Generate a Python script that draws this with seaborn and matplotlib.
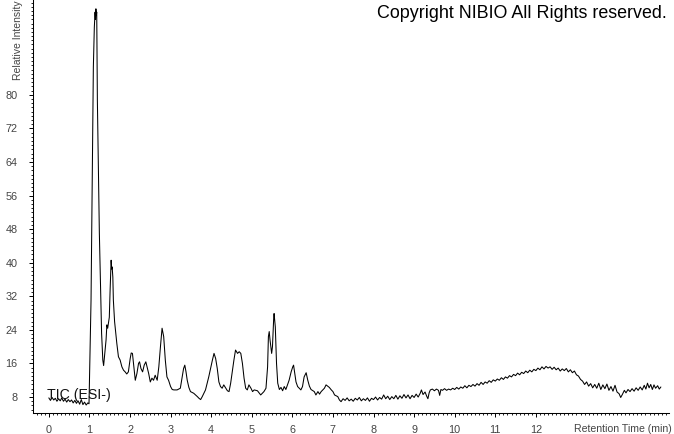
import numpy as np
import pandas as pd
import seaborn as sns
import matplotlib
matplotlib.use("Agg")
import matplotlib.pyplot as plt
from matplotlib.ticker import MultipleLocator, FixedLocator, FixedFormatter

# ---------------- data ----------------
rt_early = [0.00, 0.04, 0.08, 0.12, 0.16, 0.20, 0.24, 0.28, 0.32, 0.36, 0.40, 0.44, 0.48,
            0.52, 0.56, 0.60, 0.64, 0.68, 0.72, 0.76, 0.80, 0.84, 0.88, 0.92, 0.96, 0.99,
            1.00, 1.04, 1.064, 1.082, 1.097, 1.121, 1.139, 1.15, 1.16, 1.17, 1.18, 1.196,
            1.22, 1.245, 1.28, 1.30, 1.33, 1.35, 1.37, 1.41, 1.43, 1.45, 1.49, 1.51, 1.535,
            1.55, 1.56, 1.577, 1.59, 1.62, 1.675, 1.715, 1.757, 1.80, 1.84, 1.88, 1.92, 1.96,
            2.005, 2.03, 2.06, 2.09, 2.13, 2.17, 2.21, 2.235, 2.27, 2.31, 2.35, 2.39, 2.42,
            2.46, 2.50, 2.54, 2.58, 2.62, 2.67, 2.71, 2.75, 2.79, 2.83, 2.87, 2.91, 2.95,
            3.00, 3.04, 3.08, 3.16, 3.24, 3.28, 3.32, 3.35, 3.38, 3.41, 3.45, 3.49, 3.57,
            3.66, 3.70, 3.74, 3.78, 3.86, 3.94, 4.03, 4.07, 4.11, 4.15, 4.19, 4.23, 4.27,
            4.31, 4.36, 4.40, 4.44, 4.48, 4.52, 4.56, 4.60, 4.65, 4.69, 4.73, 4.77, 4.81,
            4.85, 4.89, 4.93, 4.98, 5.02, 5.06, 5.14, 5.22, 5.30, 5.35, 5.39, 5.41, 5.43,
            5.45, 5.49, 5.51, 5.54, 5.55, 5.58, 5.61, 5.64, 5.68, 5.72, 5.76, 5.80, 5.84,
            5.88, 5.92, 5.97, 6.01, 6.03, 6.06, 6.09, 6.13, 6.21, 6.25, 6.29, 6.34, 6.38,
            6.42, 6.46, 6.54, 6.58, 6.63, 6.67, 6.71, 6.75, 6.79, 6.83, 6.87, 6.91, 6.96,
            7.00, 7.04, 7.08, 7.12, 7.16]
int_early = [7.8, 7.2, 7.9, 7.3, 7.7, 7.0, 7.6, 7.1, 7.8, 7.0, 7.5, 6.8, 7.4,
             6.9, 7.3, 6.6, 7.2, 6.5, 7.1, 6.3, 7.4, 6.2, 6.8, 6.1, 6.6, 6.4,
             11.3, 31.1, 54.9, 70.9, 86.6, 96.1, 99.7, 98.0, 100.5, 99.0, 99.7, 78.7,
             62.8, 47.0, 31.1, 23.2, 16.8, 15.5, 17.5, 21.6, 25.2, 24.4, 27.0, 33.5, 40.6,
             38.5, 39.0, 36.6, 31.1, 26.0, 20.8, 17.6, 16.8, 15.2, 14.4, 14.0, 13.5, 14.0,
             17.2, 18.5, 18.4, 15.6, 12.0, 13.6, 16.0, 16.4, 14.8, 14.0, 15.6, 16.4, 15.2,
             13.6, 11.6, 12.5, 12.0, 13.2, 12.0, 15.2, 20.0, 24.4, 22.4, 16.8, 12.8, 12.0,
             10.5, 9.8, 9.7, 9.7, 10.1, 12.5, 14.8, 15.6, 14.0, 12.0, 10.3, 9.3, 8.9,
             8.1, 7.7, 7.4, 8.1, 9.7, 12.8, 16.8, 18.4, 17.2, 14.8, 11.6, 10.5, 10.1,
             10.9, 10.1, 9.5, 9.3, 11.3, 14.0, 16.8, 19.2, 18.4, 18.8, 18.4, 16.0, 12.5,
             10.1, 9.7, 10.9, 10.1, 9.3, 9.7, 9.5, 8.5, 9.3, 10.1, 15.2, 22.4, 23.6,
             21.6, 18.4, 20.0, 26.7, 27.9, 24.7, 16.0, 11.3, 9.8, 10.3, 9.5, 10.5, 9.8,
             10.9, 12.0, 14.0, 15.2, 15.6, 13.6, 11.6, 10.5, 9.7, 10.5, 12.8, 13.8, 12.0,
             10.6, 9.8, 9.3, 8.5, 9.3, 8.7, 9.3, 9.7, 10.1, 10.9, 10.6, 10.3, 9.7,
             9.3, 8.5, 8.3, 8.1, 7.3]

rt_late = [7.20, 7.25, 7.30, 7.35, 7.40, 7.45, 7.50, 7.55, 7.60, 7.65, 7.70, 7.75, 7.80,
           7.85, 7.90, 7.95, 8.00, 8.05, 8.10, 8.15, 8.20, 8.25, 8.30, 8.35, 8.40, 8.45,
           8.50, 8.55, 8.60, 8.65, 8.70, 8.75, 8.80, 8.85, 8.90, 8.95, 9.00, 9.05, 9.10,
           9.15, 9.18, 9.22, 9.27, 9.31, 9.34, 9.37, 9.40, 9.45, 9.50, 9.55, 9.60, 9.63,
           9.66, 9.70, 9.75, 9.80, 9.85, 9.90, 9.95, 10.00, 10.05, 10.10, 10.15, 10.20,
           10.25, 10.30, 10.35, 10.40, 10.45, 10.50, 10.55, 10.60, 10.65, 10.70, 10.75,
           10.80, 10.85, 10.90, 10.95, 11.00, 11.05, 11.10, 11.15, 11.20, 11.25, 11.30,
           11.35, 11.40, 11.45, 11.50, 11.55, 11.60, 11.65, 11.70, 11.75, 11.80, 11.85,
           11.90, 11.95, 12.00, 12.05, 12.10, 12.15, 12.20, 12.25, 12.30, 12.35, 12.40,
           12.45, 12.50, 12.55, 12.60, 12.65, 12.70, 12.75, 12.80, 12.85, 12.90, 12.95,
           13.00, 13.05, 13.10, 13.15, 13.20, 13.25, 13.30, 13.35, 13.40, 13.45, 13.50,
           13.55, 13.60, 13.65, 13.70, 13.75, 13.80, 13.85, 13.90, 13.95, 14.00, 14.05,
           14.09, 14.13, 14.18, 14.22, 14.27, 14.32, 14.37, 14.42, 14.47, 14.52, 14.57,
           14.62, 14.67, 14.71, 14.75, 14.79, 14.83, 14.87, 14.91, 14.95, 15.00, 15.04,
           15.08]
int_late = [6.9, 7.6, 7.2, 7.8, 7.1, 7.5, 7.0, 7.7, 7.3, 7.9, 7.1, 7.6, 7.2,
            7.8, 7.0, 7.7, 7.4, 8.0, 7.3, 7.9, 7.5, 8.5, 7.6, 8.2, 7.4, 8.1,
            7.6, 8.4, 7.5, 8.3, 7.7, 8.6, 7.8, 8.5, 7.6, 8.4, 7.9, 8.7, 8.0,
            8.9, 9.7, 8.6, 9.2, 8.2, 7.6, 9.0, 9.7, 9.9, 9.5, 9.9, 9.6, 8.4,
            9.8, 9.6, 10.0, 9.6, 9.9, 9.7, 10.1, 9.8, 10.3, 9.9, 10.4, 10.1,
            10.7, 10.2, 10.8, 10.5, 11.0, 10.6, 11.2, 10.8, 11.5, 11.0, 11.6,
            11.3, 11.9, 11.5, 12.1, 11.8, 12.3, 12.0, 12.6, 12.2, 12.8, 12.5,
            13.1, 12.8, 13.4, 13.1, 13.7, 13.3, 13.9, 13.6, 14.2, 13.8, 14.4,
            14.0, 14.6, 14.3, 14.9, 14.5, 15.2, 14.7, 15.3, 14.9, 15.2, 14.6,
            15.1, 14.5, 14.9, 14.2, 14.7, 14.3, 14.8, 14.0, 14.5, 13.8, 14.2,
            13.3, 13.0, 12.2, 11.8, 11.0, 11.6, 10.6, 11.2, 10.2, 11.0, 10.1,
            11.3, 9.8, 10.9, 10.0, 11.1, 9.6, 10.5, 9.4, 10.8, 9.2, 8.8,
            7.9, 8.6, 9.6, 9.0, 9.8, 9.3, 10.0, 9.4, 10.2, 9.6, 10.4,
            9.7, 10.8, 9.9, 11.3, 10.2, 11.0, 9.8, 10.9, 10.1, 10.7, 9.9,
            10.4]

x_ticks = [0, 1, 2, 3, 4, 5, 6, 7, 8, 9, 10, 11, 12]
x_tick_labels = ["0", "1", "2", "3", "4", "5", "6", "7", "8", "9", "10", "11", "12"]
y_ticks = [8, 16, 24, 32, 40, 48, 56, 64, 72, 80]
y_tick_labels = ["8", "16", "24", "32", "40", "48", "56", "64", "72", "80"]
trace_label = "TIC (ESI-)"
x_axis_label = "Retention Time (min)"
y_axis_label = "Relative Intensity"
copyright_text = "Copyright NIBIO All Rights reserved."

df = pd.DataFrame({"rt": rt_early + rt_late, "intensity": int_early + int_late})

# ---------------- figure ----------------
sns.set_style("white")
plt.rcParams["font.family"] = ["Liberation Sans", "DejaVu Sans"]

W, H = 674, 434
fig = plt.figure(figsize=(W / 100, H / 100), dpi=100)
ax_left, ax_right, ax_top, ax_bottom = 33, 669, 0, 413
ax = fig.add_axes([ax_left / W, (H - ax_bottom) / H, (ax_right - ax_left) / W, (ax_bottom - ax_top) / H])

sns.lineplot(data=df, x="rt", y="intensity", ax=ax, sort=False, estimator=None,
             color="black", linewidth=0.75)

ax.set_xlim(-0.39, 15.28)
ax.set_ylim(4.2, 102.6)

for s in ["top", "right"]:
    ax.spines[s].set_visible(False)
for s in ["left", "bottom"]:
    ax.spines[s].set_color("black")
    ax.spines[s].set_linewidth(0.75)

ax.xaxis.set_major_locator(FixedLocator(x_ticks))
ax.xaxis.set_major_formatter(FixedFormatter(x_tick_labels))
ax.xaxis.set_minor_locator(MultipleLocator(0.1))
ax.yaxis.set_major_locator(FixedLocator(y_ticks))
ax.yaxis.set_major_formatter(FixedFormatter(y_tick_labels))
ax.yaxis.set_minor_locator(MultipleLocator(1))

ax.tick_params(axis="both", which="major", direction="out", length=3.2, width=0.7,
               color="black", labelsize=7.8, labelcolor="#444444")
ax.tick_params(axis="both", which="minor", direction="out", length=1.6, width=0.6, color="black")
ax.tick_params(axis="x", which="major", pad=5.5, bottom=True)
ax.tick_params(axis="x", which="minor", bottom=True)
ax.tick_params(axis="y", which="major", pad=8, left=True)
ax.tick_params(axis="y", which="minor", left=True)
ax.set_xlabel("")
ax.set_ylabel("")

fig.text(672 / W, 1 - 429 / H, x_axis_label, ha="right", va="center",
         fontsize=7.6, color="#444444")
fig.text(18 / W, 1 - 80 / H, y_axis_label, ha="center", va="bottom", rotation=90,
         fontsize=7.5, color="#444444")
fig.text(377 / W, 1 - 14 / H, copyright_text, ha="left", va="center",
         fontsize=12.9, color="black")
ax.text(-0.05, 6.9, trace_label, ha="left", va="bottom", fontsize=10.2, color="#111111",
        transform=ax.transData)

fig.savefig("out.png", dpi=100)
